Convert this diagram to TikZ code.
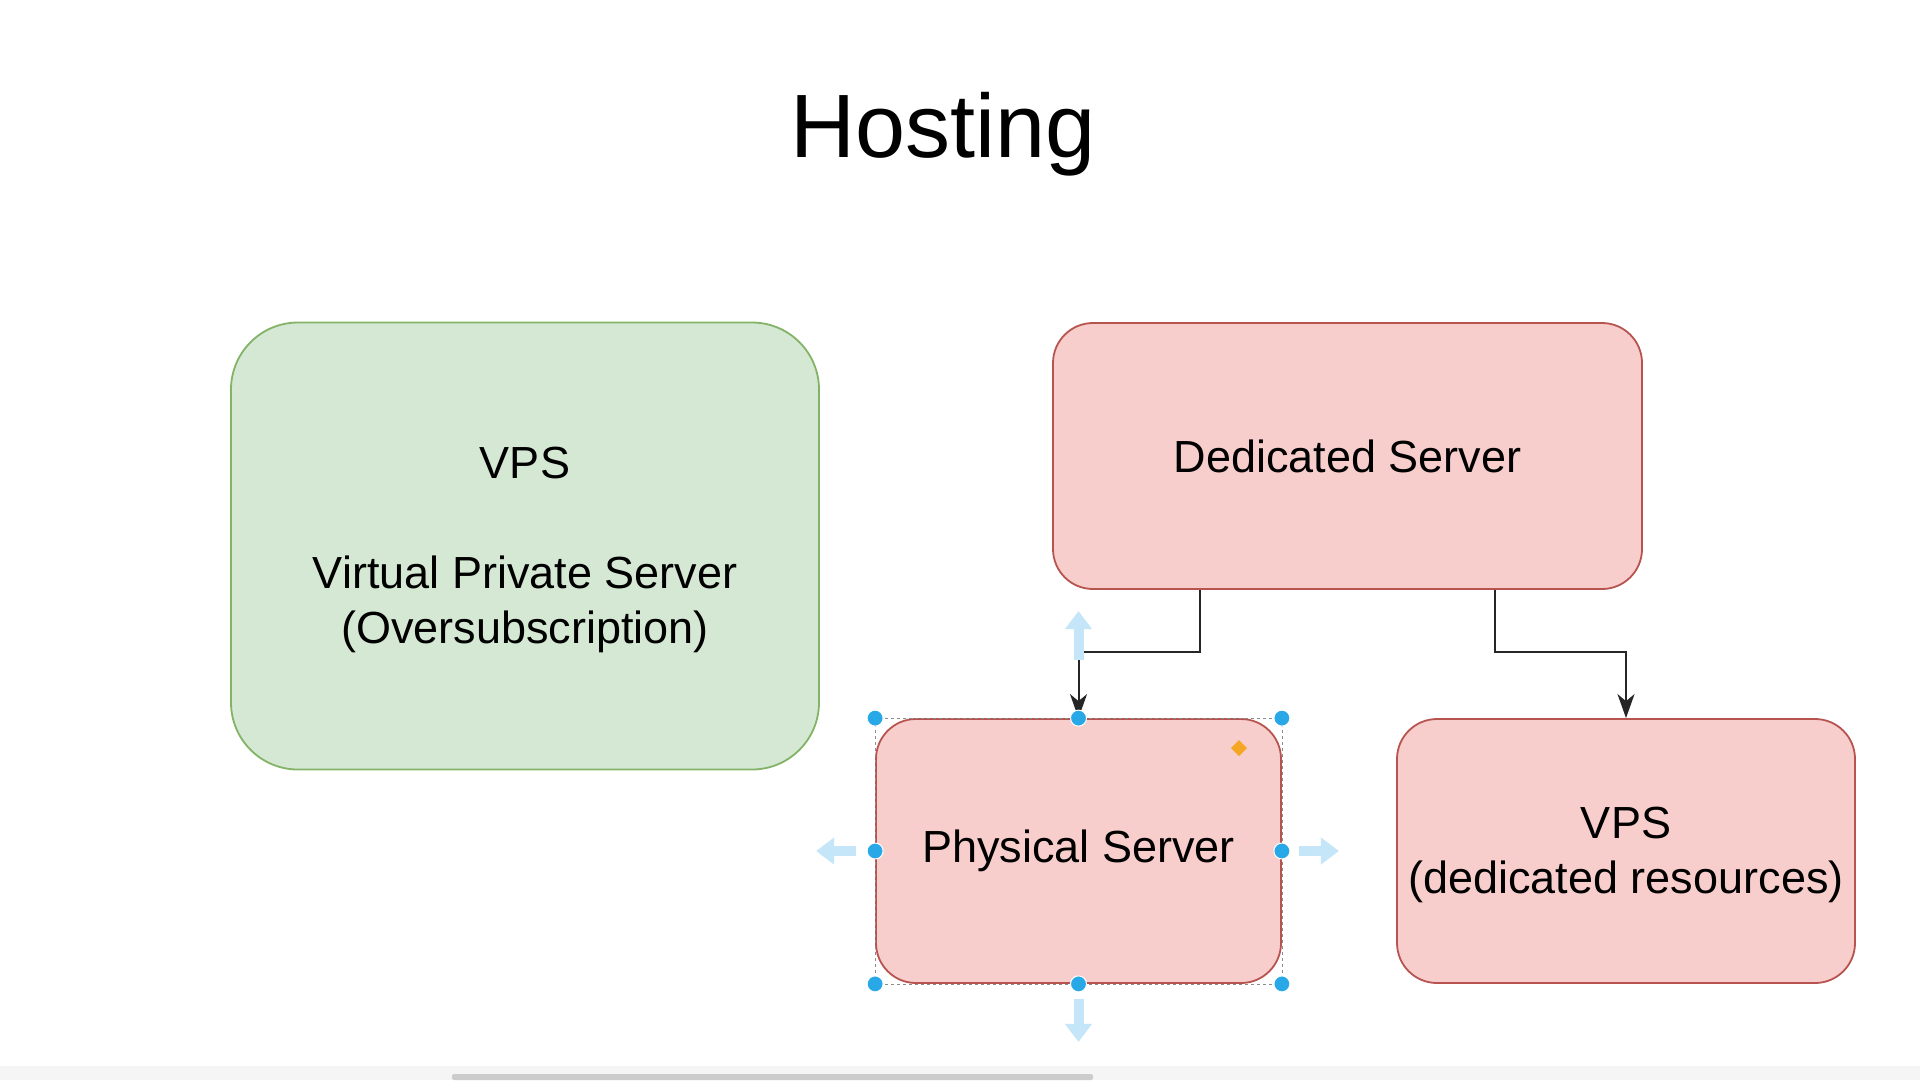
\documentclass[tikz,border=0pt]{standalone}
\usepackage{fontspec}
\setmainfont{Liberation Sans}
\usetikzlibrary{arrows.meta,positioning,calc}
\definecolor{greenfill}{HTML}{D5E8D4}
\definecolor{greenline}{HTML}{82B366}
\definecolor{redfill}{HTML}{F8CECC}
\definecolor{redline}{HTML}{B85450}
\definecolor{handleblue}{HTML}{29A8E8}
\definecolor{hoverblue}{HTML}{C4E6F8}
\definecolor{handleorange}{HTML}{F5A623}

\begin{document}
\begin{tikzpicture}[x=1pt,y=-1pt,
  boxtext/.style={font=\fontsize{45}{55}\selectfont,align=center,inner sep=0pt},
  greenbox/.style={draw=greenline,fill=greenfill,line width=1.8pt,boxtext},
  redbox/.style={draw=redline,fill=redfill,line width=1.8pt,boxtext},
  conn/.style={draw=black!85,line width=2pt,-{Stealth[length=24pt,width=17pt,inset=7pt]}},
  hoverarrow/.style={draw=hoverblue,line width=10pt,-{Triangle[length=18pt,width=26pt]}},
  handle/.style={fill=handleblue,draw=white,line width=1pt}]
\fill[white] (0,0) rectangle (1920,1080);
\useasboundingbox (0,0) rectangle (1920,1080);
\node[font=\fontsize{90}{100}\selectfont,anchor=base] (title) at (943,157) {Hosting};
\node[greenbox,minimum width=588pt,minimum height=447pt,rounded corners=67pt] (vps) at (525,546) {\strut VPS\\[55pt]Virtual Private Server\\(Oversubscription)};
\node[redbox,minimum width=589pt,minimum height=266pt,rounded corners=40pt] (dedicated) at (1347.5,456) {Dedicated Server};
\node[redbox,minimum width=405pt,minimum height=264pt,rounded corners=40pt] (physical) at (1078.5,851) {\strut Physical Server};
\node[redbox,minimum width=458pt,minimum height=264pt,rounded corners=40pt] (vpsres) at (1626,851) {\strut VPS\\(dedicated resources)};
\draw[conn] ($(dedicated.south west)!.25!(dedicated.south east)$) -- ++(0,62) -| (physical.north);
\draw[conn] ($(dedicated.south west)!.75!(dedicated.south east)$) -- ++(0,62) -| (vpsres.north);
% selection of the physical server
\draw[black!45,dashed,line width=0.8pt] (physical.north west) rectangle (physical.south east);
\draw[hoverarrow] ($(physical.north)+(0,-58)$) -- ($(physical.north)+(0,-107)$);
\draw[hoverarrow] ($(physical.west)+(-19,0)$) -- ($(physical.west)+(-59,0)$);
\draw[hoverarrow] ($(physical.east)+(17,0)$) -- ($(physical.east)+(57,0)$);
\draw[hoverarrow] ($(physical.south)+(0,15)$) -- ($(physical.south)+(0,58)$);
\foreach \a in {north west,north,north east,west,east,south west,south,south east}
  \path[handle] (physical.\a) circle[radius=8pt];
\fill[handleorange] ($(physical.north east)+(-43,22)$) -- ++(8,8) -- ++(-8,8) -- ++(-8,-8) -- cycle;
% scroll bar
\fill[black!4] (0,1066) rectangle (1920,1080);
\fill[black!20,rounded corners=2pt] (452,1074) rectangle (1093,1080);
\end{tikzpicture}
\end{document}
